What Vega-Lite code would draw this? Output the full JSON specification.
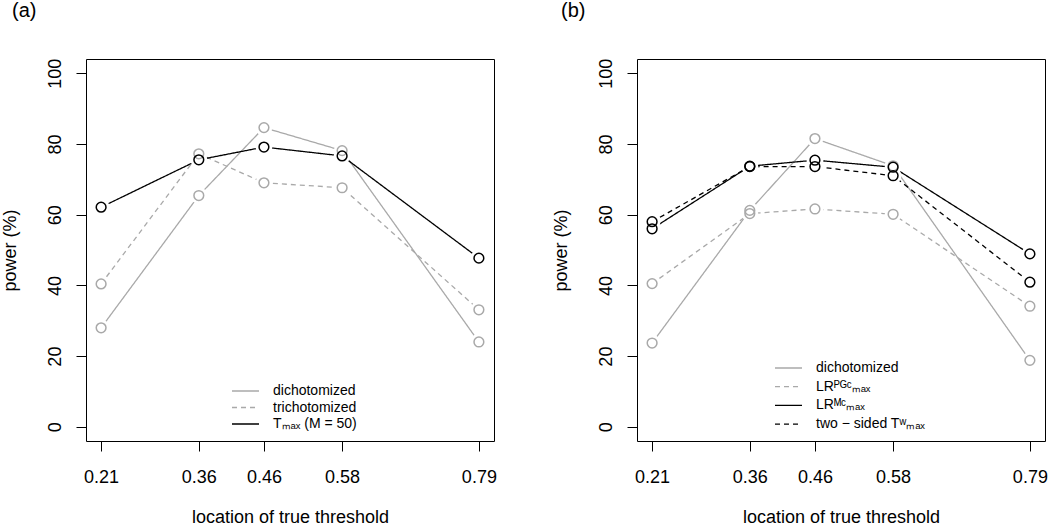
{
  "$schema": "https://vega.github.io/schema/vega-lite/v6.json",
  "background": "white",
  "padding": {"left": 0, "top": 0, "right": 0, "bottom": 0},
  "bounds": "flush",
  "spacing": 143,
  "config": {
    "font": "Liberation Sans",
    "view": {"stroke": "black", "strokeWidth": 1},
    "axis": {"domain": false, "grid": false, "tickColor": "black", "tickSize": 10, "tickWidth": 1, "labelFontSize": 18, "labelColor": "black", "titleFontSize": 18, "titleFontWeight": "normal", "titleColor": "black"},
    "axisX": {"labelBaseline": "top", "labelPadding": 17, "titlePadding": 22, "labelFlush": false, "labelOverlap": false},
    "axisY": {"labelAngle": 270, "labelAlign": "center", "labelBaseline": "alphabetic", "labelPadding": 16, "titlePadding": 31, "titleBaseline": "alphabetic"},
    "title": {"fontSize": 20, "fontWeight": "normal", "color": "black", "anchor": "start", "frame": "group", "baseline": "alphabetic", "offset": 37}
  },
  "resolve": {
    "scale": {"color": "independent", "strokeDash": "independent", "stroke": "independent"},
    "legend": {"color": "independent", "strokeDash": "independent", "stroke": "independent"}
  },
  "hconcat": [
    {
      "width": 408,
      "height": 382,
      "title": {"text": "(a)", "dx": -74},
      "data": {"values": [
        {"x": 0.21, "series": "dichotomized", "power": 28.0},
        {"x": 0.36, "series": "dichotomized", "power": 65.4},
        {"x": 0.46, "series": "dichotomized", "power": 84.6},
        {"x": 0.58, "series": "dichotomized", "power": 78.1},
        {"x": 0.79, "series": "dichotomized", "power": 24.0},
        {"x": 0.21, "series": "trichotomized", "power": 40.4},
        {"x": 0.36, "series": "trichotomized", "power": 77.2},
        {"x": 0.46, "series": "trichotomized", "power": 69.0},
        {"x": 0.58, "series": "trichotomized", "power": 67.6},
        {"x": 0.79, "series": "trichotomized", "power": 33.1},
        {"x": 0.21, "series": "Tₘₐₓ  (M = 50)", "power": 62.1},
        {"x": 0.36, "series": "Tₘₐₓ  (M = 50)", "power": 75.5},
        {"x": 0.46, "series": "Tₘₐₓ  (M = 50)", "power": 79.1},
        {"x": 0.58, "series": "Tₘₐₓ  (M = 50)", "power": 76.6},
        {"x": 0.79, "series": "Tₘₐₓ  (M = 50)", "power": 47.7}
      ]},
      "encoding": {
        "x": {"field": "x", "type": "quantitative", "scale": {"domain": [0.1868, 0.8132], "nice": false, "zero": false}, "axis": {"values": [0.21, 0.36, 0.46, 0.58, 0.79], "format": ".2f", "title": "location of true threshold"}},
        "y": {"field": "power", "type": "quantitative", "scale": {"domain": [-4, 104], "nice": false, "zero": false}, "axis": {"values": [0, 20, 40, 60, 80, 100], "title": "power (%)"}}
      },
      "layer": [
        {
          "mark": {"type": "line", "strokeWidth": 1.3},
          "encoding": {
            "color": {"field": "series", "type": "nominal", "scale": {"domain": ["dichotomized", "trichotomized", "Tₘₐₓ  (M = 50)"], "range": ["#a9a9a9", "#a9a9a9", "#000000"]},
              "legend": {"orient": "none", "legendX": 152.5, "legendY": 325, "title": null, "symbolType": "M-2.7,0H2.7", "symbolSize": 100, "symbolStrokeWidth": 1.3, "labelFontSize": 14, "labelColor": "black", "labelOffset": 20.5, "labelAlign": "left", "rowPadding": 2.5, "padding": 0}},
            "strokeDash": {"field": "series", "type": "nominal", "scale": {"domain": ["dichotomized", "trichotomized", "Tₘₐₓ  (M = 50)"], "range": [[1, 0], [5, 4], [1, 0]]},
              "legend": {"orient": "none", "legendX": 152.5, "legendY": 325, "title": null, "symbolType": "M-2.7,0H2.7", "symbolSize": 100, "symbolStrokeWidth": 1.3, "labelFontSize": 14, "labelColor": "black", "labelOffset": 20.5, "labelAlign": "left", "rowPadding": 2.5, "padding": 0}}
          }
        },
        {
          "mark": {"type": "point", "shape": "circle", "filled": true, "color": "white", "size": 280, "opacity": 1, "strokeWidth": 0},
          "encoding": {}
        },
        {
          "mark": {"type": "point", "shape": "circle", "filled": false, "size": 95, "strokeWidth": 1.5, "opacity": 1},
          "encoding": {
            "stroke": {"field": "series", "type": "nominal", "scale": {"domain": ["dichotomized", "trichotomized", "Tₘₐₓ  (M = 50)"], "range": ["#a9a9a9", "#a9a9a9", "#000000"]}, "legend": null}
          }
        }
      ]
    },
    {
      "width": 408,
      "height": 382,
      "title": {"text": "(b)", "dx": -76},
      "data": {"values": [
        {"x": 0.21, "series": "dichotomized", "power": 23.7},
        {"x": 0.36, "series": "dichotomized", "power": 61.2},
        {"x": 0.46, "series": "dichotomized", "power": 81.5},
        {"x": 0.58, "series": "dichotomized", "power": 73.8},
        {"x": 0.79, "series": "dichotomized", "power": 18.8},
        {"x": 0.21, "series": "LRᴾᴳᶜₘₐₓ", "power": 40.5},
        {"x": 0.36, "series": "LRᴾᴳᶜₘₐₓ", "power": 60.3},
        {"x": 0.46, "series": "LRᴾᴳᶜₘₐₓ", "power": 61.6},
        {"x": 0.58, "series": "LRᴾᴳᶜₘₐₓ", "power": 60.1},
        {"x": 0.79, "series": "LRᴾᴳᶜₘₐₓ", "power": 34.1},
        {"x": 0.21, "series": "LRᴹᶜₘₐₓ", "power": 56.0},
        {"x": 0.36, "series": "LRᴹᶜₘₐₓ", "power": 73.7},
        {"x": 0.46, "series": "LRᴹᶜₘₐₓ", "power": 75.4},
        {"x": 0.58, "series": "LRᴹᶜₘₐₓ", "power": 73.4},
        {"x": 0.79, "series": "LRᴹᶜₘₐₓ", "power": 48.9},
        {"x": 0.21, "series": "two − sided  Tʷₘₐₓ", "power": 58.0},
        {"x": 0.36, "series": "two − sided  Tʷₘₐₓ", "power": 73.6},
        {"x": 0.46, "series": "two − sided  Tʷₘₐₓ", "power": 73.6},
        {"x": 0.58, "series": "two − sided  Tʷₘₐₓ", "power": 71.0},
        {"x": 0.79, "series": "two − sided  Tʷₘₐₓ", "power": 40.9}
      ]},
      "encoding": {
        "x": {"field": "x", "type": "quantitative", "scale": {"domain": [0.1868, 0.8132], "nice": false, "zero": false}, "axis": {"values": [0.21, 0.36, 0.46, 0.58, 0.79], "format": ".2f", "title": "location of true threshold"}},
        "y": {"field": "power", "type": "quantitative", "scale": {"domain": [-4, 104], "nice": false, "zero": false}, "axis": {"values": [0, 20, 40, 60, 80, 100], "title": "power (%)"}}
      },
      "layer": [
        {
          "mark": {"type": "line", "strokeWidth": 1.3},
          "encoding": {
            "color": {"field": "series", "type": "nominal", "scale": {"domain": ["dichotomized", "LRᴾᴳᶜₘₐₓ", "LRᴹᶜₘₐₓ", "two − sided  Tʷₘₐₓ"], "range": ["#a9a9a9", "#a9a9a9", "#000000", "#000000"]},
              "legend": {"orient": "none", "legendX": 144.5, "legendY": 302, "title": null, "symbolType": "M-2.7,0H2.7", "symbolSize": 100, "symbolStrokeWidth": 1.3, "labelFontSize": 14, "labelColor": "black", "labelOffset": 20.5, "labelAlign": "left", "rowPadding": 4.7, "padding": 0}},
            "strokeDash": {"field": "series", "type": "nominal", "scale": {"domain": ["dichotomized", "LRᴾᴳᶜₘₐₓ", "LRᴹᶜₘₐₓ", "two − sided  Tʷₘₐₓ"], "range": [[1, 0], [5, 4], [1, 0], [5, 4]]},
              "legend": {"orient": "none", "legendX": 144.5, "legendY": 302, "title": null, "symbolType": "M-2.7,0H2.7", "symbolSize": 100, "symbolStrokeWidth": 1.3, "labelFontSize": 14, "labelColor": "black", "labelOffset": 20.5, "labelAlign": "left", "rowPadding": 4.7, "padding": 0}}
          }
        },
        {
          "mark": {"type": "point", "shape": "circle", "filled": true, "color": "white", "size": 280, "opacity": 1, "strokeWidth": 0},
          "encoding": {}
        },
        {
          "mark": {"type": "point", "shape": "circle", "filled": false, "size": 95, "strokeWidth": 1.5, "opacity": 1},
          "encoding": {
            "stroke": {"field": "series", "type": "nominal", "scale": {"domain": ["dichotomized", "LRᴾᴳᶜₘₐₓ", "LRᴹᶜₘₐₓ", "two − sided  Tʷₘₐₓ"], "range": ["#a9a9a9", "#a9a9a9", "#000000", "#000000"]}, "legend": null}
          }
        }
      ]
    }
  ]
}
